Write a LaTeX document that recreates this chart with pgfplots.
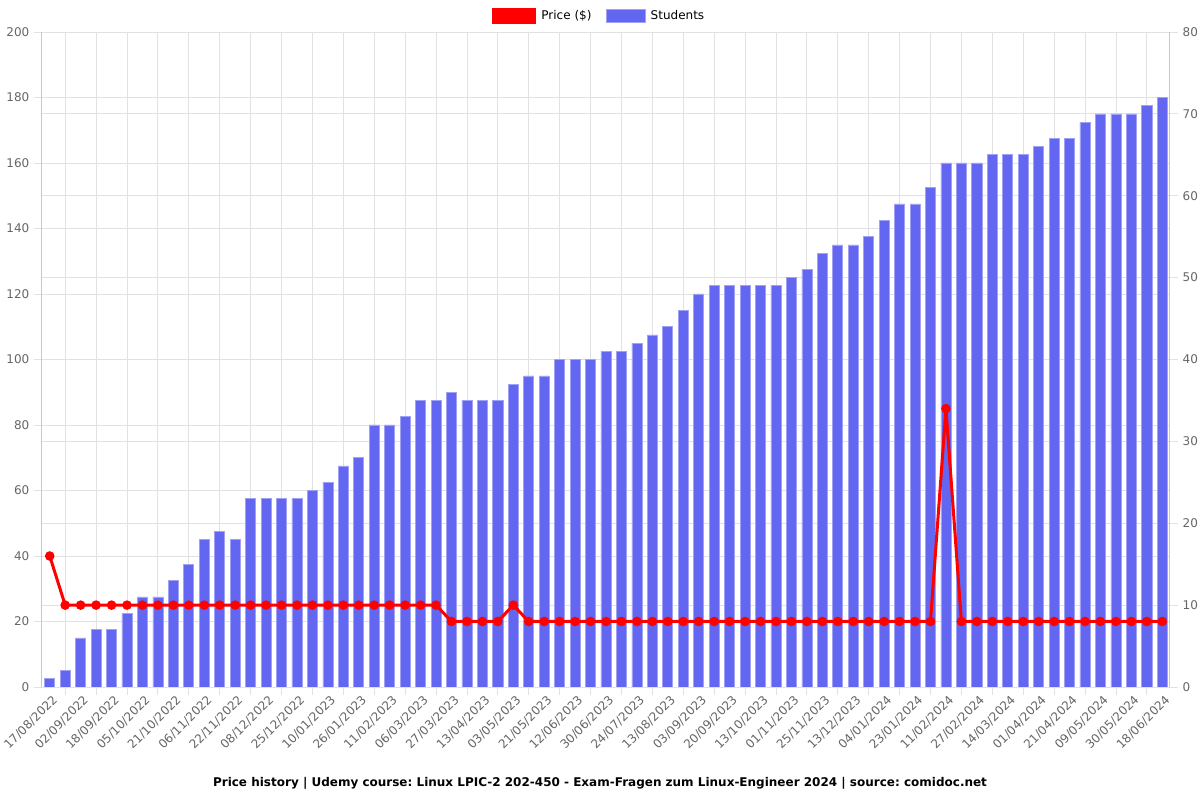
\documentclass[border=0pt]{standalone}
\usepackage{fontspec}
\setmainfont{DejaVu Sans}
\usepackage{pgfplots}
\pgfplotsset{compat=1.18}
\usepackage{pgfplotstable}
\frenchspacing
\definecolor{barblue}{RGB}{99,102,241}
\definecolor{barborder}{RGB}{160,162,246}
\definecolor{tickgray}{RGB}{102,102,102}
\definecolor{gridgray}{RGB}{225,225,225}
\definecolor{bordergray}{RGB}{200,200,200}
\pgfplotstableread{
idx price students
0 40 1
1 25 2
2 25 6
3 25 7
4 25 7
5 25 9
6 25 11
7 25 11
8 25 13
9 25 15
10 25 18
11 25 19
12 25 18
13 25 23
14 25 23
15 25 23
16 25 23
17 25 24
18 25 25
19 25 27
20 25 28
21 25 32
22 25 32
23 25 33
24 25 35
25 25 35
26 20 36
27 20 35
28 20 35
29 20 35
30 25 37
31 20 38
32 20 38
33 20 40
34 20 40
35 20 40
36 20 41
37 20 41
38 20 42
39 20 43
40 20 44
41 20 46
42 20 48
43 20 49
44 20 49
45 20 49
46 20 49
47 20 49
48 20 50
49 20 51
50 20 53
51 20 54
52 20 54
53 20 55
54 20 57
55 20 59
56 20 59
57 20 61
58 85 64
59 20 64
60 20 64
61 20 65
62 20 65
63 20 65
64 20 66
65 20 67
66 20 67
67 20 69
68 20 70
69 20 70
70 20 70
71 20 71
72 20 72
}\data
\pgfplotsset{
  base/.style={
    scale only axis, width=846pt, height=491.25pt,
    xmin=-0.5, xmax=72.5,
    at={(31.5pt,84.75pt)}, anchor=south west,
    tick label style={font=\fontsize{9}{10}\selectfont, color=tickgray},
    /pgf/number format/assume math mode=true,
    tick align=outside,
    major tick length=6pt, minor tick length=6pt,
    grid style={draw=gridgray, line width=0.6pt},
    axis line style={draw=bordergray, line width=0.75pt},
  }
}
\begin{document}
\begin{tikzpicture}
\useasboundingbox (0,0) rectangle (900pt,600pt);
% axis A: price grid, left ticks, x labels
\begin{axis}[base,
  ymin=0, ymax=200, ytick={0,20,...,200},
  ymajorgrids,
  axis y line*=left, axis x line*=bottom,
  ytick style={draw=gridgray, line width=0.6pt},
  xtick={0,2,...,72},
  xticklabels={17/08/2022,02/09/2022,18/09/2022,05/10/2022,21/10/2022,06/11/2022,22/11/2022,08/12/2022,25/12/2022,10/01/2023,26/01/2023,11/02/2023,06/03/2023,27/03/2023,13/04/2023,03/05/2023,21/05/2023,12/06/2023,30/06/2023,24/07/2023,13/08/2023,03/09/2023,20/09/2023,13/10/2023,01/11/2023,25/11/2023,13/12/2023,04/01/2024,23/01/2024,11/02/2024,27/02/2024,14/03/2024,01/04/2024,21/04/2024,09/05/2024,30/05/2024,18/06/2024},
  minor xtick={1,3,...,71},
  xminorgrids,
  major x tick style={draw=none},
  minor x tick style={draw=gridgray, line width=0.6pt},
  xticklabel style={rotate=45, anchor=east, inner sep=1pt, yshift=-4.5pt, xshift=2.5pt},
]
\addplot[draw=none] table[x=idx, y=price]{\data};
\end{axis}
% axis B: students bars, right ticks
\begin{axis}[base,
  ymin=0, ymax=80, ytick={0,10,...,80},
  ymajorgrids,
  axis y line*=right,
  axis x line=none,
  ytick style={draw=gridgray, line width=0.6pt},
]
\addplot[ybar, bar width=0.65, fill=barblue, draw=barborder, line width=0.5pt]
  table[x=idx, y=students]{\data};
\end{axis}
% axis C: price line
\begin{axis}[base,
  ymin=0, ymax=200, hide axis,
  legend columns=2,
  legend style={at={(0.5,1)}, anchor=center, yshift=12pt, xshift=-5pt,
    draw=none, fill=none, font=\fontsize{9}{10}\selectfont,
    /tikz/every odd column/.append style={column sep=2pt},
    /tikz/every even column/.append style={column sep=9pt}},
]
\addplot[red, line width=2.25pt, mark=*, mark size=2.4pt,
  legend image code/.code={\draw[fill=red, draw=red] (0pt,-4.875pt) rectangle (31pt,4.875pt);}]
  table[x=idx, y=price]{\data};
\addlegendentry{Price (\$)}
\addlegendimage{legend image code/.code={\draw[fill=barblue, draw=barborder] (0pt,-4.875pt) rectangle (29pt,4.875pt);}}
\addlegendentry{Students}
\end{axis}
\node[font=\bfseries\fontsize{9}{11}\selectfont] at (450pt,12.5pt) {Price history | Udemy course: Linux LPIC-2 202-450 - Exam-Fragen zum Linux-Engineer 2024 | source: comidoc.net};
\end{tikzpicture}
\end{document}
